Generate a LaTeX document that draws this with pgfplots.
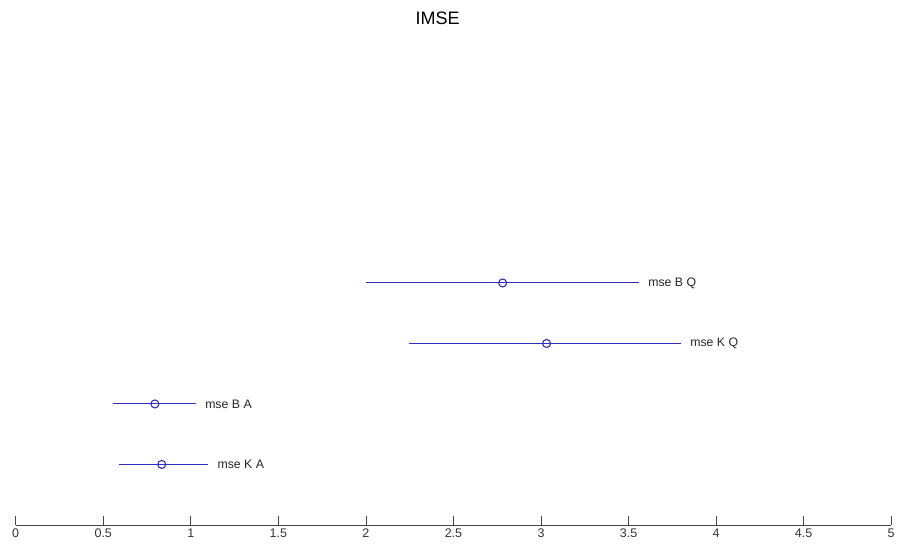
\documentclass[border=0pt]{standalone}
\usepackage{pgfplots}
\pgfplotsset{compat=1.18}
\usepackage{fontspec}
\setmainfont{Liberation Sans}
\definecolor{ln}{RGB}{45,45,190}
\definecolor{ax}{RGB}{70,70,70}
\begin{document}
\begin{tikzpicture}
\begin{axis}[
  name=ax,
  scale only axis=true,
  width=875.6bp, height=484bp,
  xmin=0, xmax=5, ymin=0, ymax=8,
  axis x line=bottom,
  axis y line=none,
  axis line style={ax, line width=0.8bp, -},
  xtick={0,0.5,...,5},
  xticklabels={0,0.5,1,1.5,2,2.5,3,3.5,4,4.5,5},
  tick style={ax, line width=0.8bp},
  major tick length=9bp,
  tick align=inside,
  xtick pos=bottom,
  ytick=\empty,
  /pgf/number format/assume math mode=true,
  tick label style={font=\fontsize{12.5bp}{14bp}\selectfont, text=black!80},
  xticklabel style={yshift=-0.5bp},
  clip=false,
]
% rows: lo, mid, hi
\addplot[ln, line width=1bp, no marks] coordinates {(2.000,4) (3.560,4)};
\addplot[ln, line width=1.1bp, only marks, mark=o, mark size=4bp, mark options={fill=white}] coordinates {(2.781,4)};
\addplot[ln, line width=1bp, no marks] coordinates {(2.248,3) (3.800,3)};
\addplot[ln, line width=1.1bp, only marks, mark=o, mark size=4bp, mark options={fill=white}] coordinates {(3.032,3)};
\addplot[ln, line width=1bp, no marks] coordinates {(0.554,2) (1.030,2)};
\addplot[ln, line width=1.1bp, only marks, mark=o, mark size=4bp, mark options={fill=white}] coordinates {(0.795,2)};
\addplot[ln, line width=1bp, no marks] coordinates {(0.592,1) (1.100,1)};
\addplot[ln, line width=1.1bp, only marks, mark=o, mark size=4bp, mark options={fill=white}] coordinates {(0.834,1)};
\begin{scope}[every node/.style={anchor=west, inner sep=0pt, xshift=9bp, font=\fontsize{12.3bp}{14bp}\selectfont, text=black!85}]
\node at (axis cs:3.560,4) {mse B Q};
\node at (axis cs:3.800,3) {mse K Q};
\node at (axis cs:1.030,2) {mse B A};
\node at (axis cs:1.100,1) {mse K A};
\end{scope}
\node[anchor=base, inner sep=0pt, font=\fontsize{18bp}{20bp}\selectfont] at ([yshift=16bp]rel axis cs:0.482,1) {IMSE};
\end{axis}
\path[use as bounding box] ([xshift=-15.7bp, yshift=-23bp]ax.south west) rectangle ([xshift=6.7bp, yshift=41bp]ax.north east);
\end{tikzpicture}
\end{document}
